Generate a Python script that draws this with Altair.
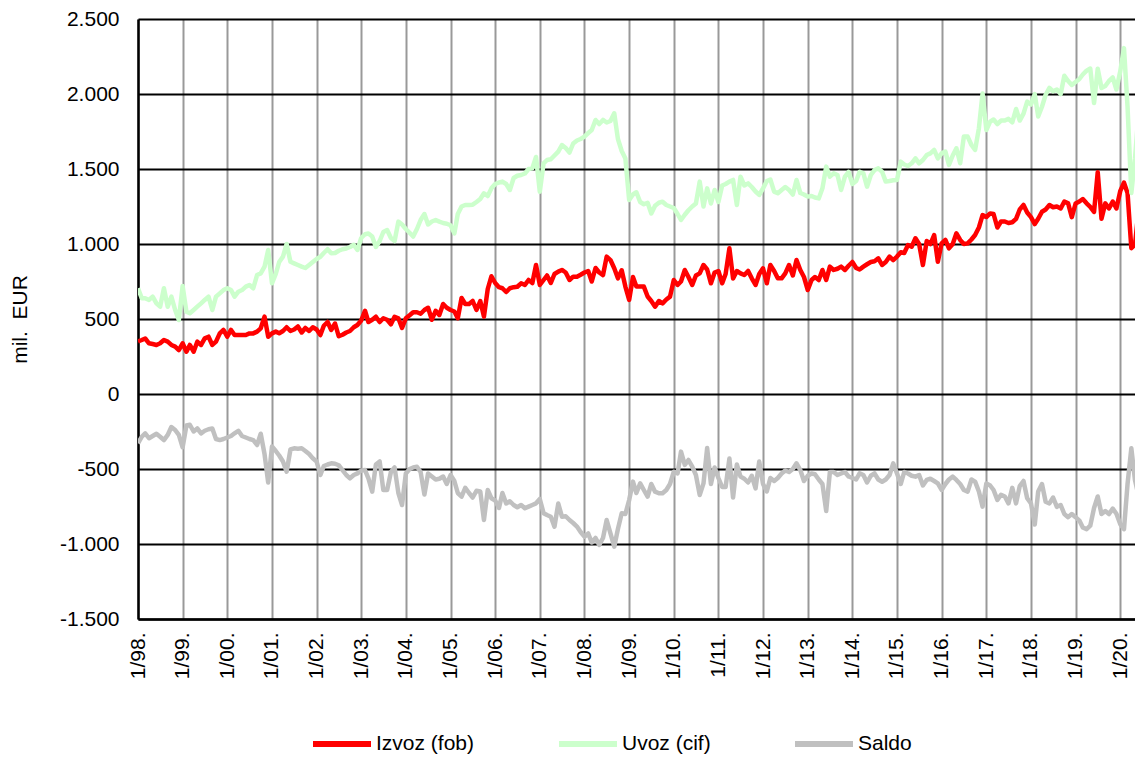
import altair as alt
import pandas as pd

# Monthly values, mil. EUR, from 1/1998
izvoz = [
    350, 360, 370, 338, 333, 327, 338, 360, 349, 327, 316, 293,
    338, 282, 327, 282, 349, 327, 371, 382, 327, 349, 404, 427,
    382, 427, 393, 393, 393, 393, 404, 404, 416, 438, 516, 382,
    404, 416, 405, 420, 445, 420, 430, 450, 410, 440, 420, 445,
    430, 393, 455, 480, 427, 470, 385, 395, 410, 420, 445, 460,
    490, 555, 480, 495, 515, 480, 505, 495, 465, 515, 505, 440,
    505, 525, 545, 545, 535, 560, 575, 495, 555, 527, 600, 575,
    560, 550, 505, 640, 600, 600, 620, 560, 620, 516, 700, 785,
    740, 712, 705, 680, 705, 712, 715, 738, 727, 760, 740, 860,
    727, 760, 790, 740, 800, 816, 827, 810, 760, 782, 782, 795,
    810, 820, 750, 840, 810, 793, 916, 893, 838, 771, 825, 716,
    627, 780, 716, 716, 716, 650, 620, 582, 620, 604, 630, 649,
    760, 727, 750, 827, 780, 727, 790, 804, 860, 830, 738, 810,
    820, 738, 800, 971, 770, 820, 804, 793, 820, 771, 727, 800,
    838, 738, 860, 820, 771, 771, 804, 860, 790, 893, 827, 780,
    693, 760, 780, 760, 827, 760, 849, 827, 835, 849, 827, 855,
    880, 840, 830, 849, 865, 880, 885, 904, 860, 880, 916, 893,
    916, 945, 940, 993, 982, 1038, 1000, 860, 1020, 1000, 1060, 882,
    1004, 1027, 971, 1000, 1071, 1027, 1000, 1004, 1030, 1060, 1110, 1193,
    1180, 1204, 1200, 1110, 1150, 1150, 1140, 1145, 1168, 1230, 1260, 1210,
    1179, 1133, 1168, 1215, 1230, 1260, 1245, 1250, 1237, 1283, 1271, 1179,
    1270, 1283, 1300, 1271, 1248, 1214, 1478, 1168, 1271, 1237, 1283, 1237,
    1352, 1409, 1340, 972, 995, 1240, 1260,
]

uvoz = [
    705, 638, 638, 627, 649, 604, 582, 705, 582, 649, 560, 493,
    720, 549, 538, 560, 582, 604, 627, 649, 560, 649, 671, 693,
    705, 693, 649, 682, 693, 716, 727, 705, 793, 804, 849, 960,
    738, 800, 880, 916, 1000, 882, 871, 860, 849, 840, 860, 880,
    900, 915, 940, 965, 938, 940, 955, 965, 970, 980, 995, 960,
    1040, 1065, 1070, 1050, 980, 1020, 1080, 1093, 1040, 1020, 1149, 1130,
    1100, 1075, 1050, 1100, 1160, 1200, 1130, 1150, 1160, 1149, 1140, 1135,
    1125, 1071, 1200, 1250, 1260, 1260, 1262, 1280, 1300, 1338, 1320, 1371,
    1400, 1410, 1416, 1400, 1360, 1440, 1455, 1460, 1470, 1500, 1505, 1580,
    1349, 1538, 1560, 1565, 1590, 1616, 1660, 1640, 1610, 1670, 1690, 1700,
    1716, 1740, 1760, 1827, 1800, 1827, 1810, 1820, 1871, 1700, 1620, 1570,
    1293, 1330, 1345, 1280, 1265, 1275, 1204, 1255, 1275, 1282, 1260, 1250,
    1240, 1200, 1160, 1195, 1225, 1250, 1270, 1416, 1250, 1371, 1270, 1360,
    1280, 1390, 1400, 1416, 1427, 1260, 1449, 1390, 1404, 1380, 1350, 1327,
    1371, 1420, 1430, 1349, 1338, 1360, 1380, 1360, 1330, 1427, 1340, 1330,
    1316, 1320, 1310, 1304, 1371, 1516, 1449, 1471, 1460, 1360, 1449, 1480,
    1400, 1420, 1482, 1471, 1382, 1460, 1493, 1504, 1482, 1416, 1420, 1425,
    1427, 1549, 1530, 1520, 1538, 1571, 1538, 1560, 1593, 1604, 1627, 1571,
    1604, 1616, 1527, 1590, 1638, 1538, 1716, 1716, 1660, 1627, 1771, 2004,
    1760, 1816, 1830, 1800, 1823, 1823, 1834, 1811, 1900, 1823, 1869, 1949,
    1930, 2000, 1850, 1915, 1995, 2041, 2018, 2030, 2000, 2122, 2087, 2060,
    2080, 2100, 2130, 2156, 2170, 1940, 2168, 2040, 2053, 2087, 2110, 2030,
    2150, 2306, 1915, 1340, 1570, 1892, 1900,
]

saldo = [
    -329, -285, -262, -295, -280, -265, -285, -307, -273, -220, -240, -273,
    -355, -210, -205, -250, -230, -262, -245, -235, -230, -300, -307, -300,
    -290, -280, -262, -245, -280, -290, -300, -307, -340, -265, -400, -590,
    -350, -380, -410, -450, -518, -370, -362, -365, -362, -380, -400, -429,
    -450, -540, -480, -470, -462, -465, -475, -507, -540, -562, -540, -529,
    -510, -507, -562, -651, -470, -450, -640, -640, -520, -490, -660, -740,
    -530, -500, -490, -485, -520, -670, -530, -550, -570, -565, -550, -600,
    -540, -580, -660, -684, -625, -660, -690, -645, -650, -840, -640, -695,
    -710, -760, -660, -730, -715, -740, -755, -740, -762, -751, -740, -729,
    -700, -795, -807, -818, -884, -730, -818, -815, -840, -860, -884, -920,
    -951, -930, -990, -960, -1006, -960, -840, -929, -1018, -900, -795, -800,
    -707, -584, -660, -596, -640, -684, -600, -651, -662, -662, -640, -600,
    -518, -529, -384, -473, -440, -484, -540, -673, -596, -360, -600, -490,
    -560, -620, -620, -430, -690, -470, -551, -565, -590, -545, -629, -450,
    -600, -650, -560, -580, -560, -530, -510, -520, -500, -462, -507, -580,
    -545, -530, -535, -570, -600, -780, -520, -520, -540, -530, -520, -550,
    -560, -570, -529, -540, -590, -545, -529, -570, -585, -570, -540, -462,
    -529, -600, -520, -530, -545, -551, -540, -610, -573, -565, -580, -596,
    -640, -600, -570, -551, -573, -600, -640, -651, -570, -584, -650, -751,
    -596, -610, -640, -706, -672, -683, -729, -626, -729, -614, -580, -695,
    -729, -870, -650, -600, -718, -729, -690, -752, -740, -800, -821, -800,
    -821, -844, -890, -901, -878, -760, -683, -800, -780, -800, -764, -798,
    -867, -901, -600, -361, -575, -683, -568,
]

series_names = ["Izvoz (fob)", "Uvoz (cif)", "Saldo"]
series_colors = ["#ff0000", "#ccffcc", "#c0c0c0"]
tick_years = list(range(1998, 2021))
y_ticks = [-1500, -1000, -500, 0, 500, 1000, 1500, 2000, 2500]

FONT = "Liberation Sans"

rows = []
for name, vals in zip(series_names, [izvoz, uvoz, saldo]):
    dates = pd.date_range("1998-01-01", periods=len(vals), freq="MS").strftime("%Y-%m-%d")
    for d, v in zip(dates, vals):
        rows.append({"mjesec": d, "serija": name, "vrijednost": v})
df = pd.DataFrame(rows)

x_axis = alt.Axis(
    values=[alt.DateTime(year=y, month=1, date=1, utc=True) for y in tick_years],
    labelExpr="'1/' + utcFormat(datum.value, '%y') + '.'",
    labelAngle=270,
    labelFont=FONT,
    labelFontSize=21,
    labelColor="black",
    labelPadding=13,
    labelOverlap=False,
    labelFlush=False,
    ticks=False,
    domainColor="black",
    domainWidth=2.5,
    grid=True,
    gridColor="#999999",
    gridWidth=2,
    title=None,
)

y_axis = alt.Axis(
    values=y_ticks,
    labelExpr="(datum.value < 0 ? '-' : '') + replace(format(abs(datum.value), ','), ',', '.')",
    labelFont=FONT,
    labelFontSize=21,
    labelColor="black",
    labelPadding=19,
    ticks=False,
    domainColor="black",
    domainWidth=2.5,
    grid=True,
    gridColor="black",
    gridWidth=2,
    title="mil. \u00a0EUR",
    titleFont=FONT,
    titleFontSize=21,
    titleFontWeight="normal",
    titleColor="black",
    titleAngle=270,
    titleX=-118,
    titleY=300,
    titleAlign="center",
    titleBaseline="middle",
)

legend = alt.Legend(
    title=None,
    orient="none",
    legendX=172,
    legendY=693,
    direction="horizontal",
    symbolType="stroke",
    symbolSize=3364,
    symbolStrokeWidth=6,
    labelFont=FONT,
    labelFontSize=21,
    labelColor="black",
    labelOffset=2,
    labelLimit=0,
    columnPadding=72,
    padding=0,
)

chart = (
    alt.Chart(df)
    .mark_line(strokeWidth=4.5, clip=True, strokeJoin="round")
    .encode(
        x=alt.X(
            "mjesec:T",
            scale=alt.Scale(
                type="utc",
                domain=[
                    alt.DateTime(year=1998, month=1, date=1, utc=True),
                    alt.DateTime(year=2020, month=5, date=1, utc=True),
                ],
                nice=False,
            ),
            axis=x_axis,
        ),
        y=alt.Y(
            "vrijednost:Q",
            scale=alt.Scale(domain=[-1500, 2500], nice=False),
            axis=y_axis,
        ),
        color=alt.Color(
            "serija:N",
            scale=alt.Scale(domain=series_names, range=series_colors),
            legend=legend,
        ),
    )
    .properties(
        width=997,
        height=600,
        autosize=alt.AutoSizeParams(type="none"),
        padding={"left": 130, "top": 11, "right": 0, "bottom": 136},
        background="white",
    )
    .configure_view(stroke=None)
)

chart.save("out.html", embed_options={"renderer": "svg", "actions": False})
